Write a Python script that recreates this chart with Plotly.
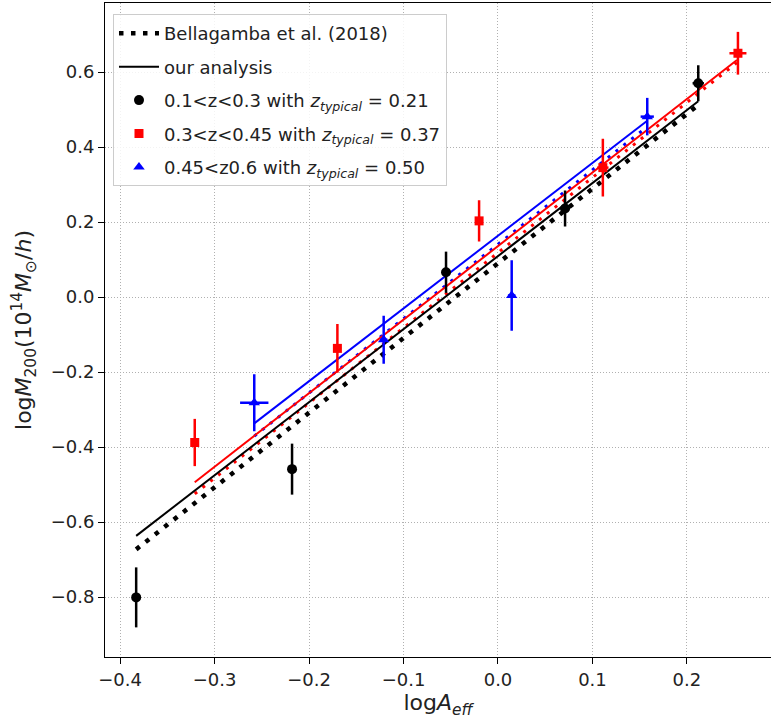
import plotly.graph_objects as go

# ---- data ----
black_x = [-0.383, -0.218, -0.055, 0.071, 0.212]
black_y = [-0.801, -0.459, 0.066, 0.236, 0.570]
black_yerr = [0.080, 0.068, 0.055, 0.048, 0.048]
black_xerr = [0.003, 0.003, 0.004, 0.005, 0.006]

red_x = [-0.321, -0.170, -0.020, 0.111, 0.254]
red_y = [-0.388, -0.137, 0.203, 0.345, 0.650]
red_yerr = [0.063, 0.065, 0.055, 0.077, 0.057]
red_xerr = [0.004, 0.004, 0.004, 0.006, 0.009]

blue_x = [-0.258, -0.121, 0.0145, 0.158]
blue_y = [-0.282, -0.114, 0.004, 0.481]
blue_yerr = [0.076, 0.064, 0.094, 0.050]
blue_xerr = [0.015, 0.004, 0.004, 0.007]

# relation lines: [x_start, x_end], [y_start, y_end]
bell_black_x = [-0.383, 0.212]
bell_black_y = [-0.673, 0.512]
ours_black_x = [-0.383, 0.212]
ours_black_y = [-0.637, 0.522]
bell_red_x = [-0.321, 0.253]
bell_red_y = [-0.525, 0.625]
ours_red_x = [-0.321, 0.253]
ours_red_y = [-0.494, 0.632]
bell_blue_x = [-0.258, 0.158]
bell_blue_y = [-0.371, 0.454]
ours_blue_x = [-0.258, 0.158]
ours_blue_y = [-0.337, 0.470]

labels = {
    "bell": "Bellagamba et al. (2018)",
    "ours": "our analysis",
    "black": "0.1&lt;z&lt;0.3 with <i>z</i><sub><i>typical</i></sub> = 0.21",
    "red": "0.3&lt;z&lt;0.45 with <i>z</i><sub><i>typical</i></sub> = 0.37",
    "blue": "0.45&lt;z0.6 with <i>z</i><sub><i>typical</i></sub> = 0.50",
}

x_ticks = [-0.4, -0.3, -0.2, -0.1, 0.0, 0.1, 0.2]
y_ticks = [-0.8, -0.6, -0.4, -0.2, 0.0, 0.2, 0.4, 0.6]

fig = go.Figure()

# colored relation lines (not in legend)
fig.add_trace(go.Scatter(x=bell_blue_x, y=bell_blue_y, mode="lines",
                         line=dict(color="#0000ff", width=3, dash="3px,7px"),
                         showlegend=False, hoverinfo="skip"))
fig.add_trace(go.Scatter(x=bell_red_x, y=bell_red_y, mode="lines",
                         line=dict(color="#ff0000", width=3, dash="3px,7px"),
                         showlegend=False, hoverinfo="skip"))
fig.add_trace(go.Scatter(x=ours_blue_x, y=ours_blue_y, mode="lines",
                         line=dict(color="#0000ff", width=2),
                         showlegend=False, hoverinfo="skip"))
fig.add_trace(go.Scatter(x=ours_red_x, y=ours_red_y, mode="lines",
                         line=dict(color="#ff0000", width=2),
                         showlegend=False, hoverinfo="skip"))

# black lines (in legend)
fig.add_trace(go.Scatter(x=bell_black_x, y=bell_black_y, mode="lines",
                         name=labels["bell"], legendrank=1, legendgroup="a",
                         line=dict(color="#000000", width=4.5, dash="4.5px,7.5px")))
fig.add_trace(go.Scatter(x=ours_black_x, y=ours_black_y, mode="lines",
                         name=labels["ours"], legendrank=2, legendgroup="b",
                         line=dict(color="#000000", width=2)))

def pts(x, y, xe, ye, color, symbol, size, name, rank, grp):
    return go.Scatter(
        x=x, y=y, mode="markers", name=name, legendrank=rank, legendgroup=grp,
        marker=dict(color=color, symbol=symbol, size=size, line=dict(width=0)),
        error_y=dict(type="data", array=ye, color=color, thickness=2.5, width=0),
        error_x=dict(type="data", array=xe, color=color, thickness=2.5, width=0),
    )

fig.add_trace(pts(black_x, black_y, black_xerr, black_yerr, "#000000",
                  "circle", 10, labels["black"], 3, "c"))
fig.add_trace(pts(red_x, red_y, red_xerr, red_yerr, "#ff0000",
                  "square", 9, labels["red"], 4, "d"))
fig.add_trace(pts(blue_x, blue_y, blue_xerr, blue_yerr, "#0000ff",
                  "triangle-up", 10, labels["blue"], 5, "e"))

axis_common = dict(
    showgrid=True, gridcolor="#b0b0b0", gridwidth=1, griddash="1px,2px",
    zeroline=False, showline=True, linecolor="#000000", linewidth=1,
    ticks="outside", ticklen=6, tickwidth=1, tickcolor="#000000",
    tickformat=".1f",
)

fig.update_layout(
    width=771, height=724,
    margin=dict(l=105, r=0, t=3, b=67),
    paper_bgcolor="white", plot_bgcolor="white",
    font=dict(family="DejaVu Sans", size=18, color="#222222"),
    xaxis=dict(range=[-0.416, 0.289], tickvals=x_ticks, mirror=True,
               title=dict(text="log<i>A</i><sub><i>eff</i></sub>", standoff=6),
               **axis_common),
    yaxis=dict(range=[-0.960, 0.784], tickvals=y_ticks,
               title=dict(text="log<i>M</i><sub>200</sub>(10<sup>14</sup><i>M</i><sub>⊙</sub>/<i>h</i>)",
                          standoff=12),
               **axis_common),
    legend=dict(x=0.012, y=0.983, xanchor="left", yanchor="top",
                bgcolor="rgba(255,255,255,0.85)", bordercolor="#cccccc",
                borderwidth=1, tracegroupgap=7, itemwidth=40,
                font=dict(family="DejaVu Sans", size=18, color="#222222")),
    showlegend=True,
)

fig.write_html("out.html")
